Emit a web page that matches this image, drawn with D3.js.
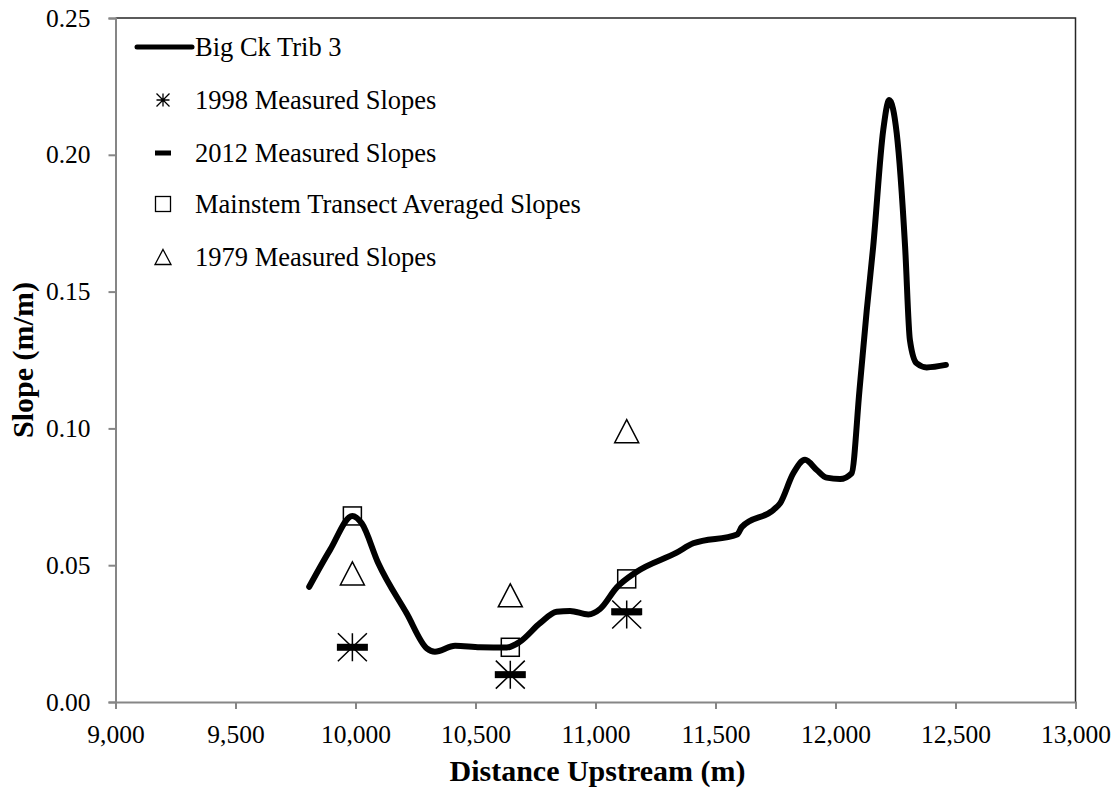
<!DOCTYPE html>
<html>
<head>
<meta charset="utf-8">
<script src="https://cdn.jsdelivr.net/npm/d3@7"></script>
<style>
  html, body { margin: 0; padding: 0; background: #fff; }
  svg { display: block; }
  text { font-family: "Liberation Serif", "Times New Roman", serif; fill: #000; }
</style>
</head>
<body>
<svg id="chart" width="1120" height="793"></svg>
<script>
// Longitudinal slope profile, Big Ck Trib 3
const profileDistance = [9807, 9894, 9987, 10026, 10095, 10213, 10297, 10331, 10415, 10519, 10630, 10685,
  10769, 10838, 10894, 10970, 11019, 11088, 11172, 11338, 11407, 11590, 11610, 11741, 11769, 11824,
  11873, 11922, 11963, 12019, 12067, 12100, 12130, 12157, 12199, 12224, 12255, 12290, 12310, 12338,
  12380, 12460];
const profileSlope = [0.0421, 0.0556, 0.0680, 0.0653, 0.0507, 0.0324, 0.0196, 0.0184, 0.0206, 0.0200,
  0.0199, 0.0220, 0.0288, 0.0330, 0.0333, 0.0320, 0.0340, 0.0418, 0.0476, 0.0546, 0.0580, 0.0612,
  0.0640, 0.0702, 0.0726, 0.0836, 0.0885, 0.0848, 0.0820, 0.0815, 0.0836, 0.1140, 0.1430, 0.1664,
  0.2091, 0.2200, 0.2079, 0.1664, 0.1323, 0.1238, 0.1223, 0.1232];

// Field measurement sites
const siteDistance = [9987, 10645, 11130];
const slopes1998 = [0.020, 0.010, 0.032];
const slopes2012 = [0.020, 0.010, 0.033];
const transectSlopes = [0.068, 0.020, 0.045];
const slopes1979 = [0.047, 0.039, 0.099];

const xTicks = [9000, 9500, 10000, 10500, 11000, 11500, 12000, 12500, 13000];
const yTicks = [0, 0.05, 0.10, 0.15, 0.20, 0.25];

const legendLabels = ["Big Ck Trib 3", "1998 Measured Slopes", "2012 Measured Slopes",
  "Mainstem Transect Averaged Slopes", "1979 Measured Slopes"];

(function draw() {
  const svg = d3.select("#chart");
  const pL = 115.5, pR = 1075.5, pT = 18, pB = 702;

  const x = d3.scaleLinear().domain([9000, 13000]).range([pL, pR]);
  const y = d3.scaleLinear().domain([0, 0.25]).range([pB, pT]);

  // Plot frame (top and right)
  svg.append("path")
    .attr("d", `M${pL},${pT}H${pR}V${pB}`)
    .attr("fill", "none").attr("stroke", "#262626").attr("stroke-width", 1.5);

  // Axes
  const xAxis = svg.append("g").attr("transform", `translate(0,${pB})`)
    .call(d3.axisBottom(x).tickValues(xTicks).tickFormat(d3.format(",")).tickSize(7).tickPadding(16));
  const yAxis = svg.append("g").attr("transform", `translate(${pL},0)`)
    .call(d3.axisLeft(y).tickValues(yTicks).tickFormat(d3.format(".2f")).tickSize(7).tickPadding(18));
  [xAxis, yAxis].forEach(g => {
    g.select(".domain").attr("stroke", "#868686").attr("stroke-width", 2);
    g.selectAll(".tick line").attr("stroke", "#868686").attr("stroke-width", 2);
    g.selectAll(".tick text").attr("font-family", "Liberation Serif").attr("font-size", 25.5).attr("fill", "#000");
  });
  xAxis.selectAll(".tick text").attr("dy", "0.71em");
  yAxis.selectAll(".tick text").attr("dy", "0.32em");

  // Axis titles
  svg.append("text").attr("x", (pL + pR) / 2 + 2).attr("y", 781)
    .attr("text-anchor", "middle").attr("font-size", 30).attr("font-weight", "bold")
    .text("Distance Upstream (m)");
  svg.append("text").attr("transform", `translate(33,${(pT + pB) / 2}) rotate(-90)`)
    .attr("text-anchor", "middle").attr("font-size", 30).attr("font-weight", "bold")
    .text("Slope (m/m)");

  // Profile line
  const profile = profileDistance.map((d, i) => [d, profileSlope[i]]);
  const line = d3.line().x(d => x(d[0])).y(d => y(d[1])).curve(d3.curveMonotoneX);
  svg.append("path").datum(profile).attr("d", line)
    .attr("fill", "none").attr("stroke", "#000").attr("stroke-width", 6)
    .attr("stroke-linecap", "round").attr("stroke-linejoin", "round");

  // Marker builders
  function star(g, cx, cy, w, h, sw) {
    const hw = w / 2, hh = h / 2;
    g.append("path")
      .attr("d", `M${cx},${cy - hh}V${cy + hh}M${cx - hw},${cy - hh}L${cx + hw},${cy + hh}M${cx - hw},${cy + hh}L${cx + hw},${cy - hh}M${cx - hw},${cy}H${cx + hw}`)
      .attr("fill", "none").attr("stroke", "#000").attr("stroke-width", sw);
  }
  function dash(g, cx, cy, w, h) {
    g.append("rect").attr("x", cx - w / 2).attr("y", cy - h / 2).attr("width", w).attr("height", h).attr("fill", "#000");
  }
  function square(g, cx, cy, s, sw) {
    g.append("rect").attr("x", cx - s / 2).attr("y", cy - s / 2).attr("width", s).attr("height", s)
      .attr("fill", "none").attr("stroke", "#000").attr("stroke-width", sw);
  }
  function triangle(g, cx, cy, w, h, sw) {
    g.append("path")
      .attr("d", `M${cx},${cy - h / 2}L${cx + w / 2},${cy + h / 2}L${cx - w / 2},${cy + h / 2}Z`)
      .attr("fill", "#fff").attr("stroke", "#000").attr("stroke-width", sw);
  }

  const marks = svg.append("g");
  siteDistance.forEach((d, i) => star(marks, x(d), y(slopes1998[i]), 29, 28, 1.5));
  siteDistance.forEach((d, i) => dash(marks, x(d), y(slopes2012[i]), 31, 7));
  siteDistance.forEach((d, i) => square(marks, x(d), y(transectSlopes[i]), 18, 1.5));
  siteDistance.forEach((d, i) => triangle(marks, x(d), y(slopes1979[i]), 24, 23, 1.5));

  // Legend
  const lg = svg.append("g");
  const rowY = [47, 100, 153, 204, 257];
  const mx = 163, textX = 195;
  lg.append("line").attr("x1", 137).attr("x2", 192).attr("y1", rowY[0]).attr("y2", rowY[0])
    .attr("stroke", "#000").attr("stroke-width", 5).attr("stroke-linecap", "round");
  star(lg, mx, rowY[1], 13, 13, 1.3);
  dash(lg, mx, rowY[2], 16, 5);
  square(lg, mx, rowY[3], 15, 1.3);
  triangle(lg, mx, rowY[4], 16, 15, 1.3);
  legendLabels.forEach((t, i) => {
    lg.append("text").attr("x", textX).attr("y", rowY[i]).attr("dy", "0.33em")
      .attr("font-size", 26.5).text(t);
  });
})();
</script>
</body>
</html>
